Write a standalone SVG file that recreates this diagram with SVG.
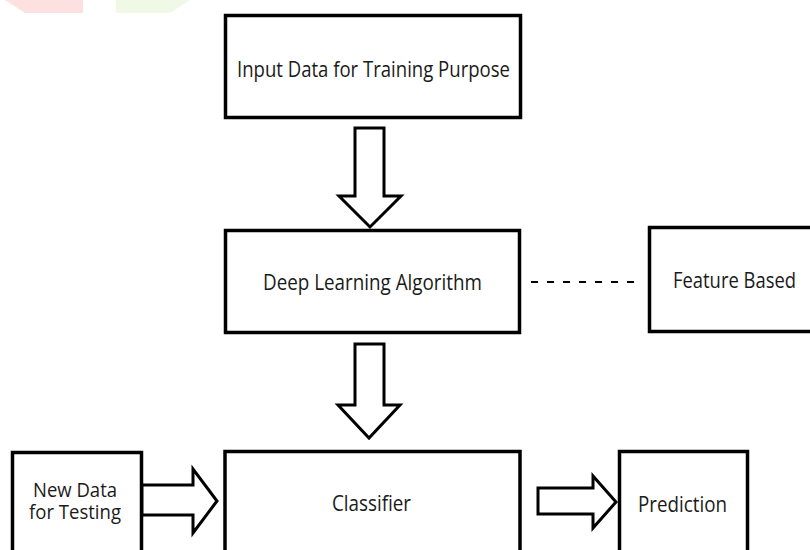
<svg xmlns="http://www.w3.org/2000/svg" width="810" height="550" viewBox="0 0 810 550">
<style>
.box{fill:#fff;stroke:#000;stroke-width:3.5}
.arr{fill:#fff;stroke:#000;stroke-width:3;stroke-linejoin:miter}
.t{font-family:"Open Sans","Liberation Sans",sans-serif;font-size:22px;fill:#1a1a1a;text-anchor:start}
.s{font-size:20px}
</style>
<rect width="810" height="550" fill="#fff"/>
<polygon points="5,0 83,0 83,13 25,13" fill="#fde1e1"/>
<polygon points="116,0 190,0 170,13 116,13" fill="#eff9e6"/>
<g id="input">
<rect class="box" x="225.5" y="15.5" width="295" height="102"/>
<text class="t" x="237" y="77" textLength="273" lengthAdjust="spacingAndGlyphs">Input Data for Training Purpose</text>
</g>
<g id="deep">
<rect class="box" x="225.5" y="230.5" width="294" height="102"/>
<text class="t" x="263" y="290" textLength="219" lengthAdjust="spacingAndGlyphs">Deep Learning Algorithm</text>
</g>
<g id="feature">
<rect class="box" x="649.5" y="227.5" width="170" height="104"/>
<text class="t" x="673" y="288" textLength="123" lengthAdjust="spacingAndGlyphs">Feature Based</text>
</g>
<g id="classifier">
<rect class="box" x="225" y="451.5" width="295" height="110"/>
<text class="t" x="332" y="511" textLength="79" lengthAdjust="spacingAndGlyphs">Classifier</text>
</g>
<g id="newdata">
<rect class="box" x="12.5" y="452.5" width="129" height="110"/>
<text class="t s" x="33" y="497" textLength="84" lengthAdjust="spacingAndGlyphs">New Data</text>
<text class="t s" x="29" y="519" textLength="92" lengthAdjust="spacingAndGlyphs">for Testing</text>
</g>
<g id="prediction">
<rect class="box" x="619.5" y="451.5" width="128" height="110"/>
<text class="t" x="638" y="512" textLength="89" lengthAdjust="spacingAndGlyphs">Prediction</text>
</g>
<g id="connectors">
<polygon class="arr" points="355,128 384,128 384,196 401,196 370,227 339,196 355,196"/>
<polygon class="arr" points="355,344 384,344 384,405 400,405 369,438 338,405 355,405"/>
<polygon class="arr" points="142,485 193,485 193,469 217,501 193,533 193,515 142,515"/>
<polygon class="arr" points="538,488 593,488 593,476 616,502 593,528 593,514 538,514"/>
<line x1="531" y1="282" x2="643" y2="282" stroke="#000" stroke-width="2" stroke-dasharray="7,9"/>
</g>
</svg>
